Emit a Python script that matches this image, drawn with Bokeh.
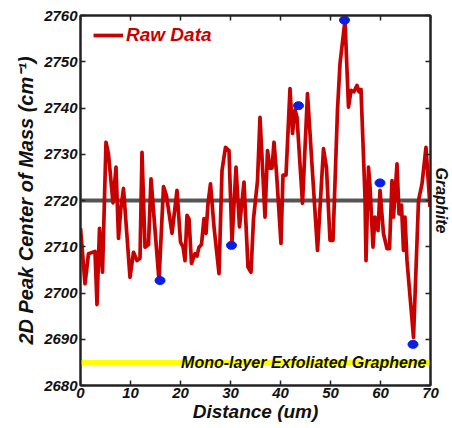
from bokeh.plotting import figure
from bokeh.models import LinearAxis, Label, Legend, LegendItem, Range1d, FixedTicker, Span
from bokeh.embed import file_html
from bokeh.resources import INLINE

distance = [0.0, 0.9, 1.6, 2.9, 3.3, 3.8, 4.4, 5.1, 5.6, 6.5, 7.1, 7.6, 8.1, 8.6, 9.9,
            10.6, 11.3, 11.9, 12.3, 12.9, 13.6, 14.1, 15.7, 16.6, 17.2, 18.3, 19.3, 20.0,
            20.5, 20.9, 21.3, 21.7, 22.2, 22.9, 23.3, 23.7, 24.2, 24.7, 25.1, 25.5, 26.0,
            26.7, 27.7, 28.3, 29.0, 29.7, 30.3, 31.1, 31.8, 32.7, 33.5, 34.1, 34.6, 35.4,
            35.9, 36.9, 37.4, 37.9, 38.3, 38.7, 39.2, 40.1, 40.5, 41.1, 41.9, 42.4, 42.9,
            43.3, 44.4, 45.4, 46.4, 47.4, 48.6, 49.2, 49.9, 50.5, 51.4, 51.9, 52.9, 53.6,
            54.1, 54.7, 55.3, 55.7, 56.1, 56.9, 57.1, 57.6, 57.9, 58.5, 58.9, 59.5, 59.9,
            60.6, 61.3, 61.8, 62.3, 62.6, 63.3, 63.7, 64.2, 64.6, 64.9, 65.3, 66.6, 67.6,
            68.3, 69.1, 69.9]
center_of_mass = [2714.0, 2702.0, 2708.5, 2709.0, 2697.5, 2714.0, 2704.5, 2732.6, 2730.0,
                  2719.5, 2727.2, 2711.8, 2718.6, 2722.6, 2703.4, 2708.8, 2707.0, 2707.5,
                  2730.4, 2709.9, 2710.5, 2724.7, 2702.7, 2723.0, 2721.0, 2712.9, 2722.2,
                  2711.0, 2710.0, 2707.0, 2716.8, 2716.0, 2706.4, 2708.5, 2708.0, 2709.9,
                  2710.5, 2716.1, 2712.9, 2719.3, 2723.6, 2714.3, 2704.2, 2726.5, 2731.5,
                  2730.8, 2711.0, 2727.2, 2714.3, 2724.0, 2705.6, 2704.5, 2716.0, 2724.3,
                  2738.0, 2716.4, 2730.8, 2727.0, 2727.0, 2732.6, 2726.0, 2710.7, 2725.5,
                  2725.5, 2744.2, 2734.5, 2739.6, 2738.0, 2719.4, 2743.1, 2726.0, 2709.2,
                  2731.2, 2727.0, 2711.4, 2711.4, 2739.6, 2749.6, 2759.0, 2740.2, 2743.8,
                  2743.5, 2744.9, 2743.5, 2744.0, 2720.7, 2707.0, 2727.2, 2723.0, 2709.9,
                  2716.4, 2713.5, 2722.2, 2712.8, 2709.6, 2709.6, 2724.3, 2716.4, 2727.9,
                  2717.1, 2719.0, 2709.2, 2716.4, 2707.0, 2690.4, 2720.0, 2723.6, 2731.5,
                  2718.6]
dot_x = [15.9, 30.2, 43.6, 52.8, 59.9, 66.5]
dot_y = [2702.7, 2710.3, 2740.5, 2759.0, 2723.8, 2688.9]
graphite_level = 2720
monolayer_level = 2685
x_ticks = [0, 10, 20, 30, 40, 50, 60, 70]
y_ticks = [2680, 2690, 2700, 2710, 2720, 2730, 2740, 2750, 2760]

FONT = "Liberation Sans"
RED = "#c80000"

p = figure(frame_width=350, frame_height=370, output_backend="svg", toolbar_location=None,
           x_range=Range1d(0, 70), y_range=Range1d(2680, 2760),
           min_border_left=80, min_border_right=20, min_border_top=15, min_border_bottom=38)
p.xgrid.visible = False
p.ygrid.visible = False
p.outline_line_color = "#222222"
p.outline_line_width = 2
p.background_fill_color = "white"
p.border_fill_color = "white"

bottom = p.below[0]
left = p.left[0]
top = LinearAxis()
right = LinearAxis()
p.add_layout(top, "above")
p.add_layout(right, "right")

for ax, ticks in [(bottom, x_ticks), (top, x_ticks), (left, y_ticks), (right, y_ticks)]:
    ax.ticker = FixedTicker(ticks=ticks)
    ax.major_tick_in = 5
    ax.major_tick_out = 0
    ax.minor_tick_line_color = None
    ax.axis_line_width = 2
    ax.axis_line_color = "#222222"
    ax.major_tick_line_width = 1.5
    ax.major_tick_line_color = "#222222"
    ax.major_label_text_font = FONT
    ax.major_label_text_font_style = "bold italic"
    ax.major_label_text_font_size = "15px"
    ax.major_label_text_color = "#111111"
    ax.major_label_standoff = 3

bottom.major_label_standoff = 2

for ax in (top, right):
    ax.major_label_text_font_size = "1px"
    ax.major_label_text_color = None
    ax.major_label_standoff = 0

bottom.axis_label = "Distance (um)"
left.axis_label = "2D Peak Center of Mass (cm\u207b\u00b9)"
right.axis_label = "Graphite"
for ax in (bottom, left, right):
    ax.axis_label_text_font = FONT
    ax.axis_label_text_font_style = "bold italic"
    ax.axis_label_text_color = "#111111"
bottom.axis_label_text_font_size = "19px"
left.axis_label_text_font_size = "20px"
right.axis_label_text_font_size = "16px"
right.axis_label_standoff = 2
bottom.axis_label_standoff = 0
left.axis_label_standoff = 4

p.add_layout(Span(location=graphite_level, dimension="width", line_color="#555555",
                  line_width=4, level="underlay"))
p.add_layout(Span(location=monolayer_level, dimension="width", line_color="#ffff00",
                  line_width=5, level="underlay"))

raw = p.line(distance, center_of_mass, line_color=RED, line_width=3.7, line_join="round")
p.ellipse(dot_x, dot_y, width=10, height=8, width_units="screen", height_units="screen",
          fill_color="#0a1ee6", line_color="#0a1ee6")

legend = Legend(items=[LegendItem(label="Raw Data", renderers=[raw])], location=(13, 339))
legend.background_fill_alpha = 0
legend.border_line_color = None
legend.padding = 5
legend.glyph_width = 30
legend.label_standoff = 3
legend.label_text_font = FONT
legend.label_text_font_style = "bold italic"
legend.label_text_font_size = "19px"
legend.label_text_color = RED
p.add_layout(legend)

p.add_layout(Label(x=69.2, y=monolayer_level, text="Mono-layer Exfoliated Graphene",
                   text_align="right", text_baseline="middle", text_font=FONT,
                   text_font_style="bold italic", text_font_size="16px", text_color="#111111"))

open("out.html", "w").write(file_html(p, INLINE))
